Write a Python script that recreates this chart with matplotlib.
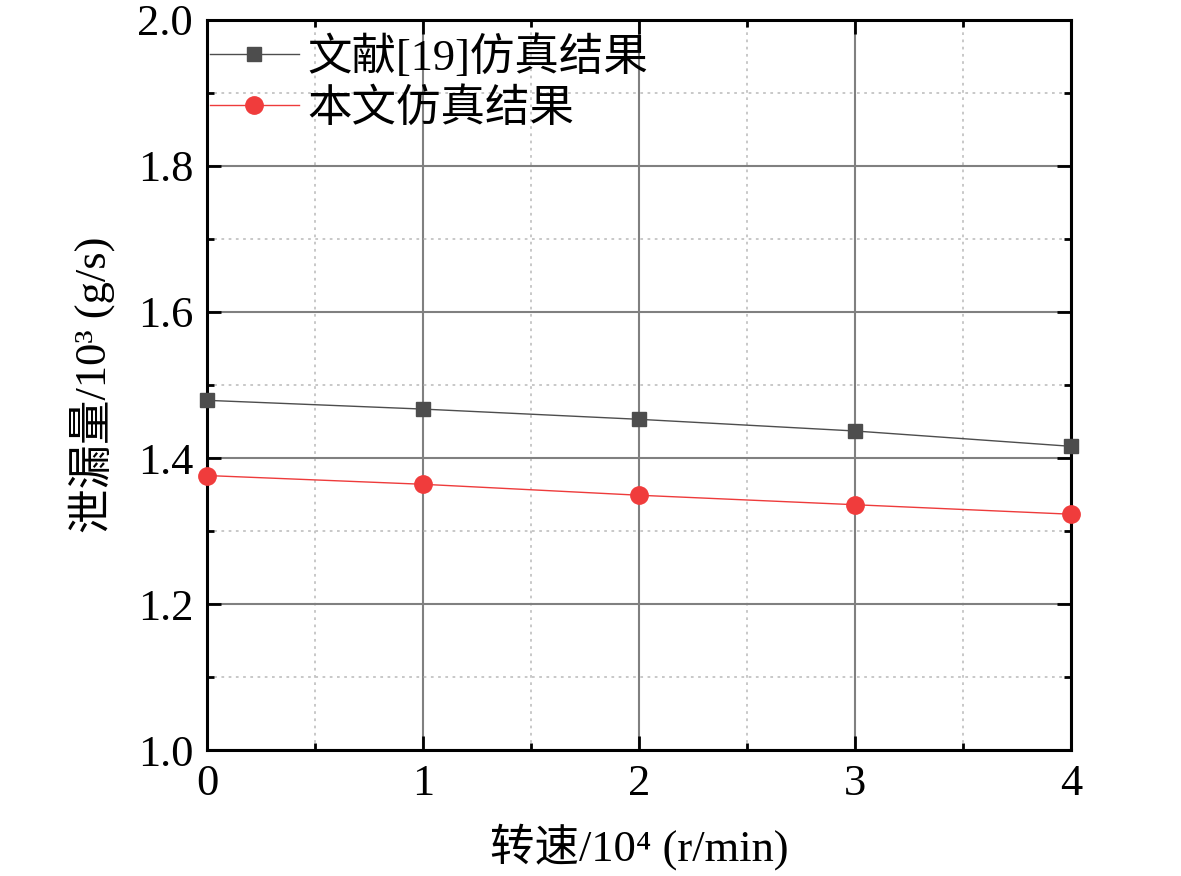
import matplotlib
matplotlib.use("Agg")
import matplotlib.pyplot as plt
from matplotlib.ticker import MultipleLocator

speed = [0, 1, 2, 3, 4]
ref19 = [1.479, 1.467, 1.453, 1.437, 1.416]
ours = [1.376, 1.364, 1.349, 1.336, 1.323]
label_ref = "文献[19]仿真结果"
label_ours = "本文仿真结果"
xlabel = "转速/10⁴ (r/min)"
ylabel = "泄漏量/10³ (g/s)"

fam = ['Liberation Serif', 'Noto Sans CJK SC', 'DejaVu Sans']
plt.rcParams['font.family'] = fam

fig = plt.figure(figsize=(11.81, 8.76), dpi=100)
ax = fig.add_axes([0.1753, 0.1438, 0.9069 - 0.1753, 0.9772 - 0.1438])

ax.plot(speed, ref19, color='#4d4d4d', lw=1.0, marker='s', ms=10, mfc='#4d4d4d', mec='#4d4d4d',
        label=label_ref, clip_on=False, zorder=5)
ax.plot(speed, ours, color='#ee3b3b', lw=1.0, marker='o', ms=12.5, mfc='#f03c3c', mec='#f03c3c',
        label=label_ours, clip_on=False, zorder=5)

ax.set_xlim(0, 4)
ax.set_ylim(1.0, 2.0)
ax.xaxis.set_major_locator(MultipleLocator(1))
ax.xaxis.set_minor_locator(MultipleLocator(0.5))
ax.yaxis.set_major_locator(MultipleLocator(0.2))
ax.yaxis.set_minor_locator(MultipleLocator(0.1))
ax.set_yticklabels([f"{v:.1f}" for v in ax.get_yticks()])

ax.grid(True, which='major', color='#808080', lw=1.5, ls='-')
ax.grid(True, which='minor', color='#c4c4c4', lw=1.3, ls=(0, (1.5, 2.5)))
ax.set_axisbelow(True)

for s in ax.spines.values():
    s.set_linewidth(2.2)
ax.tick_params(which='both', direction='in', top=True, right=True, labelsize=32, width=2, pad=10)
ax.tick_params(which='major', length=10)
ax.tick_params(which='minor', length=5)

ax.set_xlabel(xlabel, fontsize=32, labelpad=14)
ax.set_ylabel(ylabel, fontsize=32, labelpad=16)

leg = ax.legend(loc='upper left', bbox_to_anchor=(0.0035, 0.979), frameon=False, fontsize=32,
                handlelength=2.0, handletextpad=0.2, labelspacing=0.2, borderaxespad=0.0,
                borderpad=0.0)

fig.savefig('out.png', dpi=100)
